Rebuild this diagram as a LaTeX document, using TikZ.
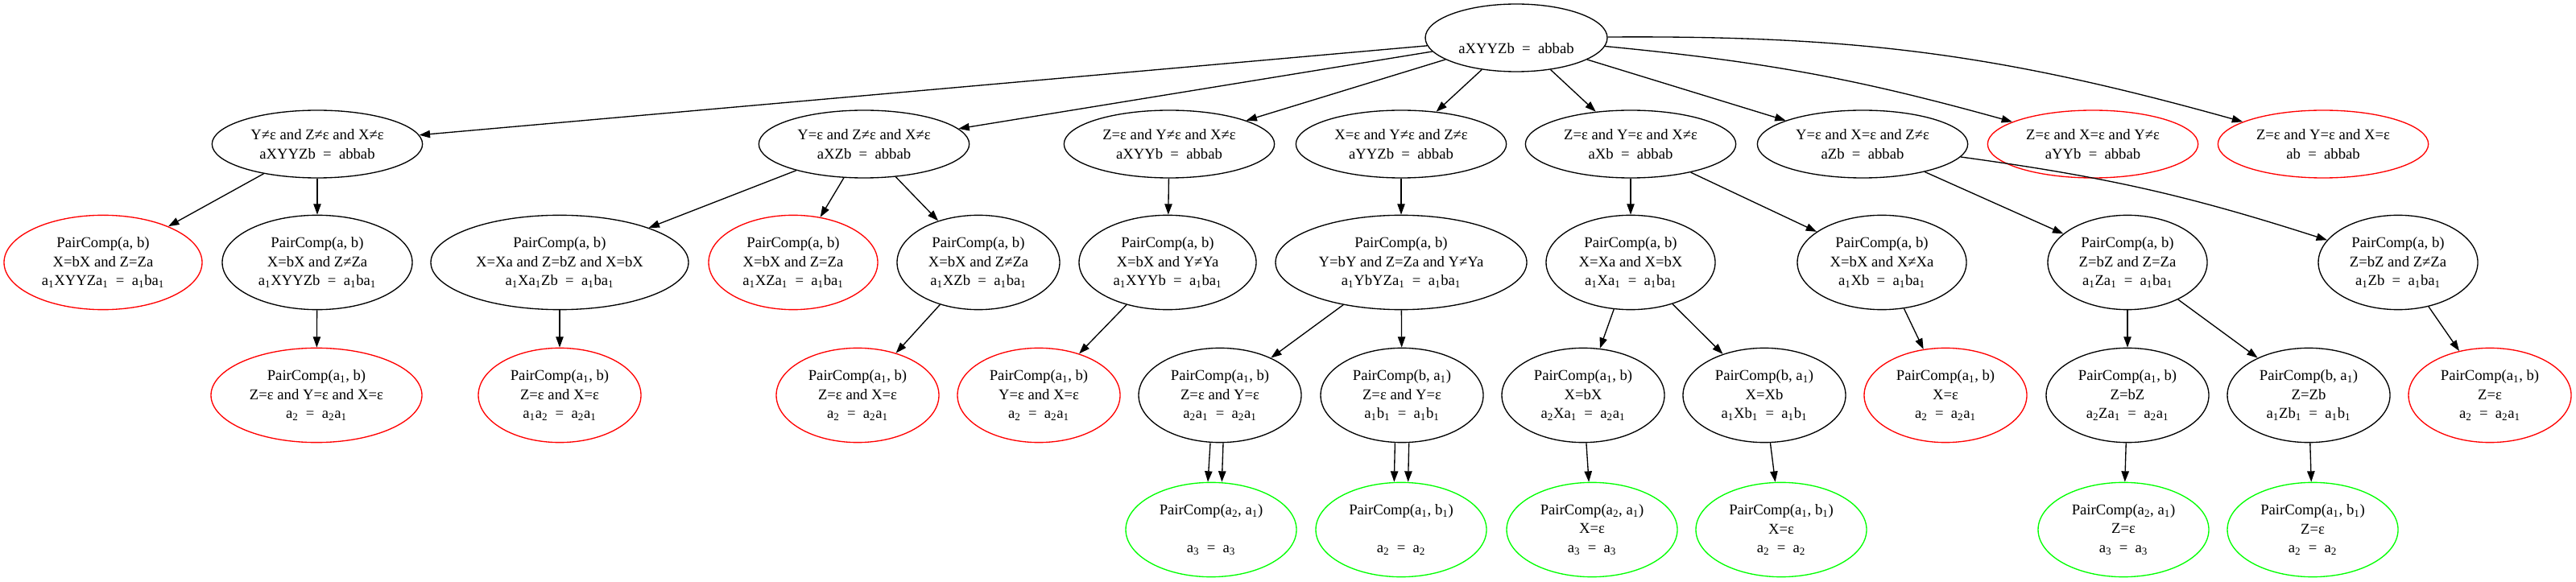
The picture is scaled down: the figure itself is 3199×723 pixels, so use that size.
\documentclass[tikz,border=0pt]{standalone}
\usepackage{fontspec}
\setmainfont{Liberation Serif}
\usepackage{tikz}
\usetikzlibrary{shapes.geometric,arrows.meta}
\definecolor{failred}{RGB}{255,0,0}
\definecolor{okgreen}{RGB}{0,255,0}
\newcommand{\lo}[1]{\textsubscript{#1}}
\newcommand{\eqs}{\enspace=\enspace}

\begin{document}
\begin{tikzpicture}[x=0.75pt,y=-0.75pt,
  state/.style={ellipse,draw,line width=1pt,inner sep=0pt,align=center,
    font=\fontsize{14}{17.5}\selectfont},
  head/.style={state,minimum height=63pt},
  pc/.style={state,minimum height=88pt},
  fail/.style={draw=failred},
  goal/.style={draw=okgreen},
  edge/.style={line width=1pt,-{Triangle[length=10pt,width=7pt]}}]

\useasboundingbox (0,0) rectangle (3199,723);

% start
\node [head,minimum width=169.5pt] (root) at (1883,47) {\strut\\aXYYZb\eqs abbab};

% cases on X, Y, Z
\node [head,minimum width=196pt] (n1a) at (394,179) {Y≠ε and Z≠ε and X≠ε\\aXYYZb\eqs abbab};
\node [head,minimum width=196pt] (n1b) at (1073,179) {Y=ε and Z≠ε and X≠ε\\aXZb\eqs abbab};
\node [head,minimum width=196pt] (n1c) at (1452,179) {Z=ε and Y≠ε and X≠ε\\aXYYb\eqs abbab};
\node [head,minimum width=196pt] (n1d) at (1740,179) {X=ε and Y≠ε and Z≠ε\\aYYZb\eqs abbab};
\node [head,minimum width=196pt] (n1e) at (2025,179) {Z=ε and Y=ε and X≠ε\\aXb\eqs abbab};
\node [head,minimum width=196pt] (n1f) at (2313,179) {Y=ε and X=ε and Z≠ε\\aZb\eqs abbab};
\node [head,fail,minimum width=196pt] (n1g) at (2599,179) {Z=ε and X=ε and Y≠ε\\aYYb\eqs abbab};
\node [head,fail,minimum width=196pt] (n1h) at (2885,179) {Z=ε and Y=ε and X=ε\\ab\eqs abbab};

% PairComp(a, b)
\node [pc,fail,minimum width=184.5pt] (n2a) at (128,326) {PairComp(a, b)\\X=bX and Z=Za\\a\lo1XYYZa\lo1\eqs a\lo1ba\lo1};
\node [pc,minimum width=177pt] (n2b) at (394,326) {PairComp(a, b)\\X=bX and Z≠Za\\a\lo1XYYZb\eqs a\lo1ba\lo1};
\node [pc,minimum width=240pt] (n2c) at (695,326) {PairComp(a, b)\\X=Xa and Z=bZ and X=bX\\a\lo1Xa\lo1Zb\eqs a\lo1ba\lo1};
\node [pc,fail,minimum width=157.5pt] (n2d) at (985,326) {PairComp(a, b)\\X=bX and Z=Za\\a\lo1XZa\lo1\eqs a\lo1ba\lo1};
\node [pc,minimum width=151.5pt] (n2e) at (1215,326) {PairComp(a, b)\\X=bX and Z≠Za\\a\lo1XZb\eqs a\lo1ba\lo1};
\node [pc,minimum width=165pt] (n2f) at (1450,326) {PairComp(a, b)\\X=bX and Y≠Ya\\a\lo1XYYb\eqs a\lo1ba\lo1};
\node [pc,minimum width=234pt] (n2g) at (1740,326) {PairComp(a, b)\\Y=bY and Z=Za and Y≠Ya\\a\lo1YbYZa\lo1\eqs a\lo1ba\lo1};
\node [pc,minimum width=157.5pt] (n2h) at (2025,326) {PairComp(a, b)\\X=Xa and X=bX\\a\lo1Xa\lo1\eqs a\lo1ba\lo1};
\node [pc,minimum width=157.5pt] (n2i) at (2337,326) {PairComp(a, b)\\X=bX and X≠Xa\\a\lo1Xb\eqs a\lo1ba\lo1};
\node [pc,minimum width=148.5pt] (n2j) at (2642,326) {PairComp(a, b)\\Z=bZ and Z=Za\\a\lo1Za\lo1\eqs a\lo1ba\lo1};
\node [pc,minimum width=148.5pt] (n2k) at (2978,326) {PairComp(a, b)\\Z=bZ and Z≠Za\\a\lo1Zb\eqs a\lo1ba\lo1};

% second comparison
\node [pc,fail,minimum width=196.5pt] (n3a) at (393,491) {PairComp(a\lo1, b)\\Z=ε and Y=ε and X=ε\\a\lo2\eqs a\lo2a\lo1};
\node [pc,fail,minimum width=151.5pt] (n3b) at (695,491) {PairComp(a\lo1, b)\\Z=ε and X=ε\\a\lo1a\lo2\eqs a\lo2a\lo1};
\node [pc,fail,minimum width=151.5pt] (n3c) at (1065,491) {PairComp(a\lo1, b)\\Z=ε and X=ε\\a\lo2\eqs a\lo2a\lo1};
\node [pc,fail,minimum width=151.5pt] (n3d) at (1290,491) {PairComp(a\lo1, b)\\Y=ε and X=ε\\a\lo2\eqs a\lo2a\lo1};
\node [pc,minimum width=151.5pt] (n3e) at (1515,491) {PairComp(a\lo1, b)\\Z=ε and Y=ε\\a\lo2a\lo1\eqs a\lo2a\lo1};
\node [pc,minimum width=151.5pt] (n3f) at (1741,491) {PairComp(b, a\lo1)\\Z=ε and Y=ε\\a\lo1b\lo1\eqs a\lo1b\lo1};
\node [pc,minimum width=151.5pt] (n3g) at (1966,491) {PairComp(a\lo1, b)\\X=bX\\a\lo2Xa\lo1\eqs a\lo2a\lo1};
\node [pc,minimum width=151.5pt] (n3h) at (2191,491) {PairComp(b, a\lo1)\\X=Xb\\a\lo1Xb\lo1\eqs a\lo1b\lo1};
\node [pc,fail,minimum width=151.5pt] (n3i) at (2416,491) {PairComp(a\lo1, b)\\X=ε\\a\lo2\eqs a\lo2a\lo1};
\node [pc,minimum width=151.5pt] (n3j) at (2642,491) {PairComp(a\lo1, b)\\Z=bZ\\a\lo2Za\lo1\eqs a\lo2a\lo1};
\node [pc,minimum width=151.5pt] (n3k) at (2867,491) {PairComp(b, a\lo1)\\Z=Zb\\a\lo1Zb\lo1\eqs a\lo1b\lo1};
\node [pc,fail,minimum width=151.5pt] (n3l) at (3092,491) {PairComp(a\lo1, b)\\Z=ε\\a\lo2\eqs a\lo2a\lo1};

% solved
\node [pc,goal,minimum width=159pt] (n4a) at (1504,658) {PairComp(a\lo2, a\lo1)\\\strut\\a\lo3\eqs a\lo3};
\node [pc,goal,minimum width=159pt] (n4b) at (1740,658) {PairComp(a\lo1, b\lo1)\\\strut\\a\lo2\eqs a\lo2};
\node [pc,goal,minimum width=159pt] (n4c) at (1977,658) {PairComp(a\lo2, a\lo1)\\X=ε\\a\lo3\eqs a\lo3};
\node [pc,goal,minimum width=159pt] (n4d) at (2212,658) {PairComp(a\lo1, b\lo1)\\X=ε\\a\lo2\eqs a\lo2};
\node [pc,goal,minimum width=159pt] (n4e) at (2637,658) {PairComp(a\lo2, a\lo1)\\Z=ε\\a\lo3\eqs a\lo3};
\node [pc,goal,minimum width=159pt] (n4f) at (2872,658) {PairComp(a\lo1, b\lo1)\\Z=ε\\a\lo2\eqs a\lo2};

\foreach \Src/\Dst in {root/n1a,root/n1b,root/n1c,root/n1d,root/n1e,root/n1f,
    n1a/n2a,n1a/n2b,n1b/n2c,n1b/n2d,n1b/n2e,n1c/n2f,n1d/n2g,n1e/n2h,n1e/n2i,n1f/n2j,
    n2b/n3a,n2c/n3b,n2e/n3c,n2f/n3d,n2g/n3e,n2g/n3f,n2h/n3g,n2h/n3h,n2i/n3i,n2j/n3j,n2j/n3k,n2k/n3l,
    n3g/n4c,n3h/n4d,n3j/n4e,n3k/n4f}{
    \draw[edge] (\Src) -- (\Dst);
}
\draw[edge] (root) to[bend left=5] (n1g);
\draw[edge] (root) to[bend left=8] (n1h);
\draw[edge] (n1f) to[bend left=5] (n2k);

% double edges
\draw[edge] ([xshift=-9pt]n3e.south) -- ([xshift=-3pt]n4a.north);
\draw[edge] ([xshift=3pt]n3e.south) -- ([xshift=10pt]n4a.north);
\draw[edge] ([xshift=-6.5pt]n3f.south) -- ([xshift=-6.5pt]n4b.north);
\draw[edge] ([xshift=6.5pt]n3f.south) -- ([xshift=6.5pt]n4b.north);

\end{tikzpicture}
\end{document}
